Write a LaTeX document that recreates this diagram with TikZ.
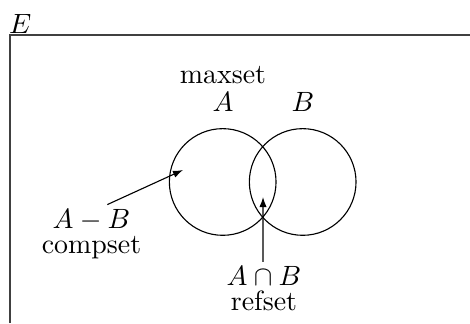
\documentclass[tikz,border=0pt]{standalone}
\usetikzlibrary{positioning,arrows.meta}
\tikzset{
  frame/.style={draw=black!75,line width=0.55pt},
  setcircle/.style={draw,circle,minimum size=1.344cm,inner sep=0pt},
  setlabel/.style={inner sep=0pt},
  pointer/.style={draw,-{Latex[length=3.6pt,width=2.6pt]}}
}

\begin{document}
\begin{tikzpicture}[line width=0.4pt]
  \clip (0,0) rectangle (5.922,4.070);
  \draw[frame] (0.126,0) |- (5.922,3.629);
  \node[setlabel] (univ) at (0.255,3.765) {$E$};

  \node[setcircle] (setA) at (2.806,1.777) {};
  \node[setcircle] (setB) at (3.814,1.777) {};
  \node[setlabel] (nameA) at (2.810,2.788) {$A$};
  \node[setlabel] (nameB) at (3.818,2.788) {$B$};
  \node[setlabel,above=2.5pt of nameA] (maxset) {maxset};

  \node[setlabel] (diff) at (1.153,1.298) {$A-B$};
  \node[setlabel,below=1.5pt of diff] (compset) {compset};
  \node[setlabel] (inter) at (3.326,0.592) {$A\cap B$};
  \node[setlabel,below=1.5pt of inter] (refset) {refset};

  \coordinate (diffin) at (2.306,1.928);
  \coordinate (interin) at (3.314,1.588);
  \draw[pointer] ([xshift=0.2cm,yshift=1.5pt]diff.north) -- (diffin);
  \draw[pointer] ([xshift=-0.012cm,yshift=1.5pt]inter.north) -- (interin);
\end{tikzpicture}
\end{document}
